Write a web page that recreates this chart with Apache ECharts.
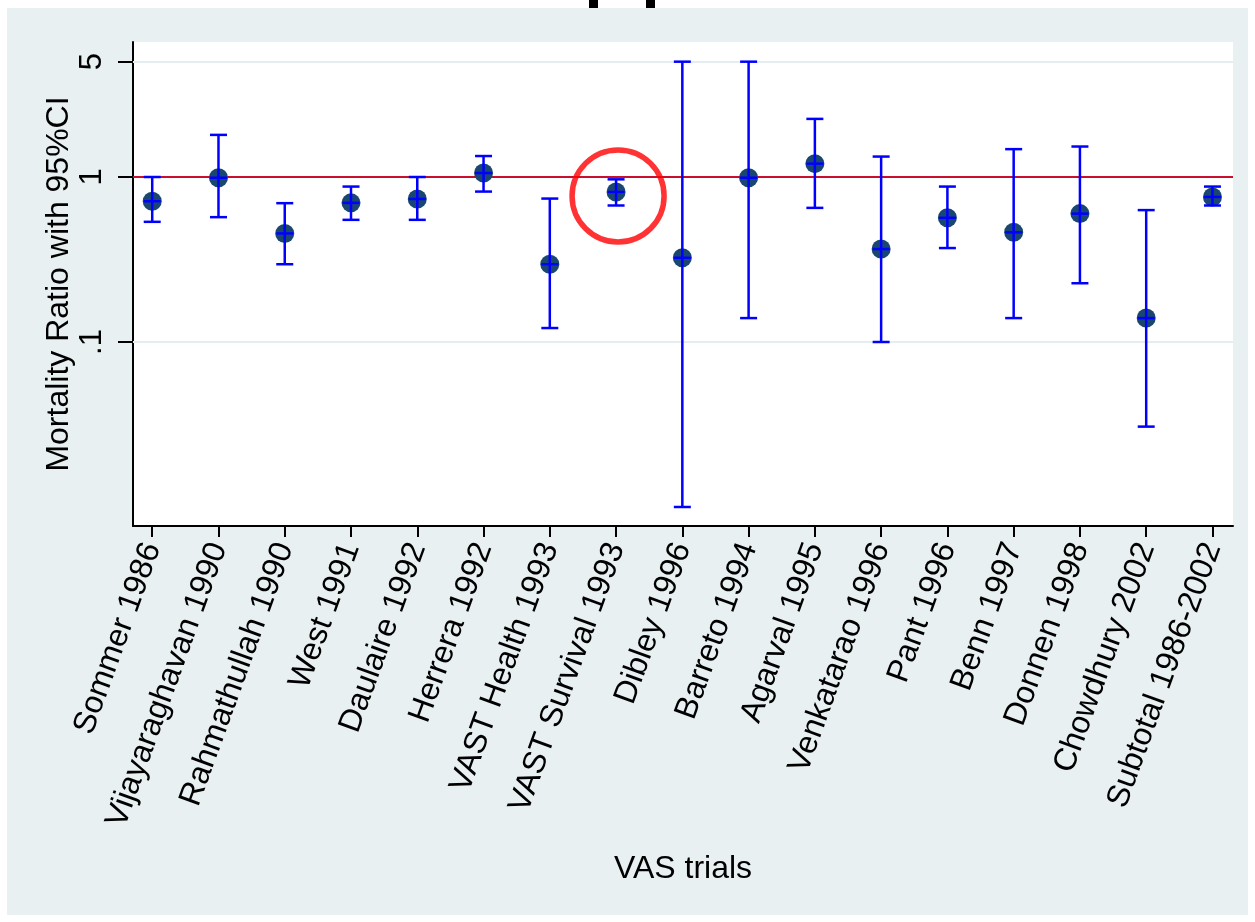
<!DOCTYPE html>
<html>
<head>
<meta charset="utf-8">
<script src="https://cdn.jsdelivr.net/npm/echarts@6/dist/echarts.min.js"></script>
<style>
html,body{margin:0;padding:0;background:#ffffff;}
#chart{width:1255px;height:922px;}
</style>
</head>
<body>
<div id="chart"></div>
<script>
// ---- data ----
const trials = ['Sommer 1986','Vijayaraghavan 1990','Rahmathullah 1990','West 1991','Daulaire 1992','Herrera 1992','VAST Health 1993','VAST Survival 1993','Dibley 1996','Barreto 1994','Agarval 1995','Venkatarao 1996','Pant 1996','Benn 1997','Donnen 1998','Chowdhury 2002','Subtotal 1986-2002'];
const estimate = [0.713, 0.99, 0.455, 0.697, 0.736, 1.057, 0.296, 0.812, 0.324, 0.99, 1.205, 0.366, 0.566, 0.462, 0.600, 0.1396, 0.757];
const lower    = [0.535, 0.571, 0.296, 0.550, 0.550, 0.816, 0.1215, 0.672, 0.0100, 0.1396, 0.650, 0.100, 0.371, 0.1396, 0.227, 0.0307, 0.672];
const upper    = [1.000, 1.800, 0.694, 0.875, 1.000, 1.340, 0.740, 0.968, 5.000, 5.000, 2.250, 1.330, 0.875, 1.475, 1.530, 0.630, 0.875];
const yTicks = [0.1, 1, 5];
const yTickLabels = ['.1', '1', '5'];
const gridValues = [0.1, 5];
const refValue = 1;
const highlightTrial = 'VAST Survival 1993';

// ---- build ----
const positions = trials.map((_, i) => i + 1);
const ciData = trials.map((t, i) => [i + 1, estimate[i], lower[i], upper[i]]);
const pointData = trials.map((t, i) => [i + 1, estimate[i]]);
const hi = trials.indexOf(highlightTrial);
const highlightData = [[hi + 1, estimate[hi]]];

const FONT = "'Liberation Sans', Arial, Helvetica, sans-serif";
const chart = echarts.init(document.getElementById('chart'), null, {renderer: 'canvas'});

function yLabel(v) {
  for (let i = 0; i < yTicks.length; i++) {
    if (Math.abs(Math.log10(yTicks[i]) - Math.log10(v)) < 1e-6) return yTickLabels[i];
  }
  return '';
}

const option = {
  animation: false,
  backgroundColor: '#ffffff',
  textStyle: {fontFamily: FONT, color: '#000'},
  graphic: [
    {type: 'rect', z: -10, silent: true, shape: {x: 7, y: 8, width: 1241, height: 907}, style: {fill: '#e8f0f2'}},
    {type: 'rect', z: 10, silent: true, shape: {x: 589, y: 0, width: 9, height: 8}, style: {fill: '#000'}},
    {type: 'rect', z: 10, silent: true, shape: {x: 646, y: 0, width: 9, height: 8}, style: {fill: '#000'}}
  ],
  grid: {left: 133, right: 22, top: 42, bottom: 396, show: true, backgroundColor: '#ffffff', borderWidth: 0},
  xAxis: {
    type: 'value', min: 0.71, max: 17.31,
    axisLine: {show: true, onZero: false, lineStyle: {color: '#000', width: 2}},
    axisTick: {show: true, customValues: positions, length: 11, lineStyle: {color: '#000', width: 2}},
    axisLabel: {customValues: positions, formatter: v => trials[Math.round(v) - 1] || '', rotate: 70, fontSize: 32, color: '#000', margin: 18, fontFamily: FONT},
    splitLine: {show: false},
    name: 'VAS trials', nameLocation: 'middle', nameGap: 327, nameMoveOverlap: false,
    nameTextStyle: {fontSize: 32, color: '#000', fontFamily: FONT}
  },
  yAxis: {
    type: 'log', logBase: 10, min: 0.00767, max: 6.58,
    axisLine: {show: true, lineStyle: {color: '#000', width: 2}},
    axisTick: {show: true, customValues: yTicks, length: 15, lineStyle: {color: '#000', width: 2}},
    axisLabel: {customValues: yTicks, formatter: yLabel, rotate: 90, fontSize: 31, color: '#000', margin: 25, fontFamily: FONT},
    splitLine: {show: false},
    name: 'Mortality Ratio with 95%CI', nameLocation: 'middle', nameGap: 58, nameMoveOverlap: false,
    nameTextStyle: {fontSize: 32, color: '#000', fontFamily: FONT}
  },
  series: [
    {
      type: 'line', data: [], silent: true, z: 1,
      markLine: {
        silent: true, symbol: ['none', 'none'], animation: false, z: 1,
        label: {show: false},
        data: gridValues.map(v => ({yAxis: v, lineStyle: {color: '#e4eef1', width: 2, type: 'solid'}}))
          .concat([{yAxis: refValue, lineStyle: {color: '#c8102e', width: 2, type: 'solid'}}])
      }
    },
    {
      type: 'scatter', data: pointData, symbol: 'circle', symbolSize: 19, z: 2,
      itemStyle: {color: '#1a476f', opacity: 1}
    },
    {
      type: 'custom', data: ciData, z: 3, clip: false,
      encode: {x: 0, y: [1, 2, 3]},
      renderItem: function (params, api) {
        const x = api.value(0);
        const m = api.coord([x, api.value(1)]);
        const lo = api.coord([x, api.value(2)]);
        const up = api.coord([x, api.value(3)]);
        const hw = 8.5;
        const st = {stroke: '#0000ff', lineWidth: 2.5, fill: null};
        return {type: 'group', children: [
          {type: 'line', shape: {x1: lo[0], y1: lo[1], x2: up[0], y2: up[1]}, style: st},
          {type: 'line', shape: {x1: lo[0] - hw, y1: lo[1], x2: lo[0] + hw, y2: lo[1]}, style: st},
          {type: 'line', shape: {x1: up[0] - hw, y1: up[1], x2: up[0] + hw, y2: up[1]}, style: st},
          {type: 'line', shape: {x1: m[0] - hw, y1: m[1], x2: m[0] + hw, y2: m[1]}, style: st}
        ]};
      }
    },
    {
      type: 'scatter', data: highlightData, symbol: 'circle', symbolSize: 92, symbolOffset: [2, 4], z: 4, silent: true,
      itemStyle: {color: 'rgba(0,0,0,0)', borderColor: '#ff0000', borderWidth: 5.5}
    }
  ]
};
chart.setOption(option);
</script>
</body>
</html>
